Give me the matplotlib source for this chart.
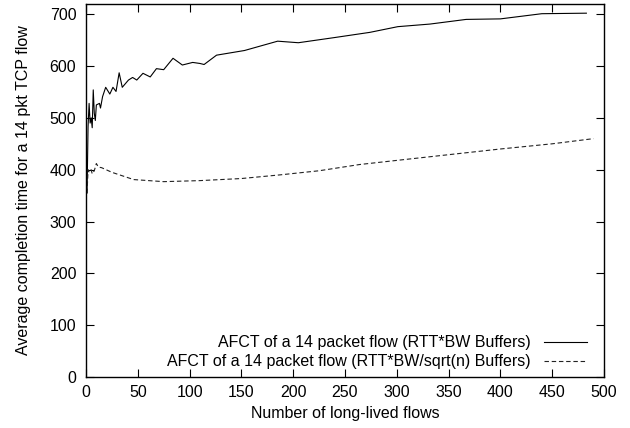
"""AFCT of a 14 packet flow vs number of long-lived flows (gnuplot-style)."""
import matplotlib
matplotlib.use("Agg")
import matplotlib.pyplot as plt

# RTT*BW buffers (solid)
n_full = [1, 2, 3, 4, 5, 6, 7, 8, 9, 10, 13, 14, 16, 19, 23, 26, 29, 32, 35,
          41, 45, 49, 55, 62, 68, 75, 84, 93, 103, 110, 114, 126, 153, 185,
          205, 240, 274, 301, 332, 367, 400, 440, 483]
afct_full = [355, 483, 528, 490, 500, 481, 554, 509, 495, 525, 528, 519, 541,
             559, 546, 559, 551, 587, 559, 573, 578, 573, 586, 579, 595, 593,
             615, 602, 607, 605, 603, 621, 630, 648, 645, 655, 665, 676, 681,
             690, 691, 701, 702]

# RTT*BW/sqrt(n) buffers (dashed)
n_sqrt = [1, 2, 3, 5, 6, 8, 10, 12, 15, 25, 46, 75, 110, 150, 187, 225, 264,
          300, 350, 400, 450, 490]
afct_sqrt = [355, 400, 395, 400, 392, 398, 412, 405, 404, 395, 381, 377, 379,
             383, 390, 398, 410, 418, 429, 440, 450, 460]

plt.rcParams["font.family"] = ["Liberation Sans", "DejaVu Sans"]
plt.rcParams["font.size"] = 11.5

fig = plt.figure(figsize=(6.3, 4.28), dpi=100)
ax = fig.add_axes([0.1365, 0.119, 0.8222, 0.872])

ax.plot(n_full, afct_full, color="black", linewidth=0.8,
        label="AFCT of a 14 packet flow (RTT*BW Buffers)")
ax.plot(n_sqrt, afct_sqrt, color="#222222", linewidth=0.8, dashes=(4, 2.5),
        label="AFCT of a 14 packet flow (RTT*BW/sqrt(n) Buffers)")

ax.set_xlim(0, 500)
ax.set_ylim(0, 720)
ax.set_xticks(range(0, 501, 50))
ax.set_yticks(range(0, 701, 100))
ax.tick_params(direction="in", length=6, width=0.8, top=True, right=True)
ax.tick_params(axis="x", pad=6)
ax.tick_params(axis="y", pad=7)
for s in ax.spines.values():
    s.set_linewidth(1.0)

ax.set_xlabel("Number of long-lived flows", labelpad=4)
ax.set_ylabel("Average completion time for a 14 pkt TCP flow", labelpad=13)

ax.legend(loc="lower right", frameon=False, markerfirst=False,
          handlelength=2.7, handletextpad=0.8, borderaxespad=0.2,
          labelspacing=0.25, bbox_to_anchor=(0.985, -0.005))

fig.savefig("out.png", dpi=100)
